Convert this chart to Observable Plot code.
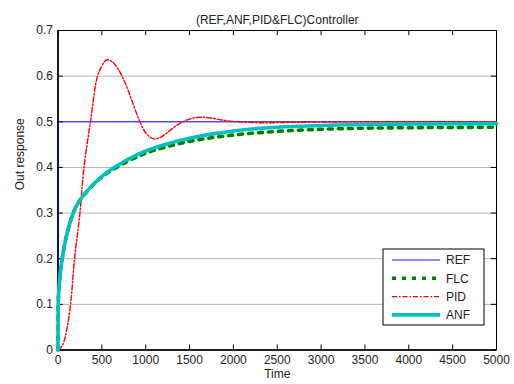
<!DOCTYPE html>
<html><head><meta charset="utf-8">
<script src="https://cdn.jsdelivr.net/npm/d3@7"></script>
<script src="https://cdn.jsdelivr.net/npm/@observablehq/plot@0.6"></script>
<style>body{margin:0;background:#fff;} svg{font-family:"Liberation Sans",Arial,sans-serif;}</style>
</head><body><div id="chart"></div>
<script>
const title = "(REF,ANF,PID&FLC)Controller";
const xLabel = "Time";
const yLabel = "Out response";
const xTicks = [0,500,1000,1500,2000,2500,3000,3500,4000,4500,5000];
const yTicks = [0,0.1,0.2,0.3,0.4,0.5,0.6,0.7];
const seriesNames = ["REF","FLC","PID","ANF"];

const refT = [0, 1, 5000];
const refV = [0, 0.5, 0.5];

const anfT = [0, 2, 17, 48, 97, 173, 257, 348, 450, 550, 650, 800, 1000, 1250, 1500, 1750, 2000, 2500, 3000, 3500, 4000, 5000];
const anfV = [0, 0.1, 0.15, 0.2, 0.25, 0.3, 0.33, 0.352, 0.372, 0.388, 0.401, 0.418, 0.436, 0.452, 0.464, 0.473, 0.48, 0.488, 0.492, 0.494, 0.495, 0.496];

const flcT = [0, 2, 17, 48, 97, 173, 257, 348, 450, 550, 650, 800, 1000, 1250, 1500, 1750, 2000, 2500, 3000, 3500, 4000, 5000];
const flcV = [0, 0.1, 0.15, 0.2, 0.25, 0.3, 0.33, 0.351, 0.371, 0.386, 0.398, 0.414, 0.431, 0.446, 0.457, 0.465, 0.471, 0.479, 0.4835, 0.486, 0.487, 0.488];

const pidT = [0, 50, 100, 143, 189, 250, 296, 370, 450, 500, 530, 565, 620, 680, 755, 840, 923, 1000, 1082, 1160, 1250, 1330, 1424, 1520, 1620, 1750, 1900, 2040, 2300, 2800, 3500, 5000];
const pidV = [0, 0.01, 0.045, 0.1, 0.2, 0.3, 0.4, 0.5, 0.6, 0.622, 0.632, 0.636, 0.631, 0.617, 0.59, 0.548, 0.505, 0.476, 0.463, 0.465, 0.477, 0.489, 0.5, 0.507, 0.51, 0.508, 0.503, 0.5, 0.498, 0.499, 0.5, 0.5];

const toRows = (T, V) => T.map((t, i) => ({t, v: V[i]}));
const ref = toRows(refT, refV), anf = toRows(anfT, anfV), flc = toRows(flcT, flcV), pid = toRows(pidT, pidV);

const styles = {
  REF: {stroke: "#0000ff", strokeWidth: 0.9},
  FLC: {stroke: "#008000", strokeWidth: 3.6, strokeDasharray: "4 6"},
  PID: {stroke: "#ff0000", strokeWidth: 1.4, strokeDasharray: "5 2 1.5 2"},
  ANF: {stroke: "#00c0c0", strokeWidth: 3.6}
};

const chart = Plot.plot({
  width: 514, height: 384,
  marginLeft: 57.5, marginRight: 18, marginTop: 30, marginBottom: 34.5,
  style: {fontFamily: "Liberation Sans, Arial, sans-serif", fontSize: "11px", background: "#fff"},
  x: {domain: [0, 5000]},
  y: {domain: [0, 0.7]},
  marks: [
    Plot.ruleY(yTicks.slice(1, -1), {stroke: "#b4b4b4", strokeWidth: 1}),
    Plot.axisX(xTicks, {tickSize: 0, tickPadding: 5, label: null, fontSize: 12, fill: "#222", tickFormat: d => String(d)}),
    Plot.axisY(yTicks, {tickSize: 0, tickPadding: 5, label: null, fontSize: 12, fill: "#222", tickFormat: d => String(d)}),
    Plot.ruleX(xTicks, {y1: 0, y2: 0.011, stroke: "black"}),
    Plot.ruleX(xTicks, {y1: 0.7, y2: 0.689, stroke: "black"}),
    Plot.ruleY(yTicks, {x1: 0, x2: 60, stroke: "black"}),
    Plot.ruleY(yTicks, {x1: 5000, x2: 4940, stroke: "black"}),
    Plot.frame({stroke: "black", strokeWidth: 1}),
    Plot.ruleX([0], {stroke: "black", strokeWidth: 1.6}),
    Plot.ruleY([0], {stroke: "black", strokeWidth: 1.6}),
    Plot.line(ref, {x: "t", y: "v", ...styles.REF}),
    Plot.line(flc, {x: "t", y: "v", curve: "monotone-x", ...styles.FLC}),
    Plot.line(pid, {x: "t", y: "v", curve: "catmull-rom", ...styles.PID}),
    Plot.line(anf, {x: "t", y: "v", curve: "monotone-x", ...styles.ANF}),
    Plot.text([title], {frameAnchor: "top", dy: -15, fontSize: 12, fill: "#222"}),
    Plot.text([xLabel], {frameAnchor: "bottom", dy: 28, fontSize: 12, fill: "#222"}),
    Plot.text([yLabel], {frameAnchor: "left", rotate: -90, dx: -38, fontSize: 12, fill: "#222"})
  ]
});
document.getElementById("chart").appendChild(chart);

// legend
const svg = d3.select(chart);
const lg = svg.append("g").attr("transform", "translate(383,249)");
lg.append("rect").attr("width", 101).attr("height", 76).attr("fill", "white").attr("stroke", "black").attr("stroke-width", 1);
seriesNames.forEach((name, i) => {
  const y = 11 + i * 18.3;
  const s = styles[name];
  lg.append("line").attr("x1", 9).attr("x2", 57).attr("y1", y).attr("y2", y)
    .attr("stroke", s.stroke).attr("stroke-width", s.strokeWidth)
    .attr("stroke-dasharray", s.strokeDasharray || null);
  lg.append("text").attr("x", 63).attr("y", y).attr("dy", "0.35em")
    .attr("text-anchor", "start").attr("font-size", 12).attr("fill", "#222").text(name);
});
</script></body></html>
